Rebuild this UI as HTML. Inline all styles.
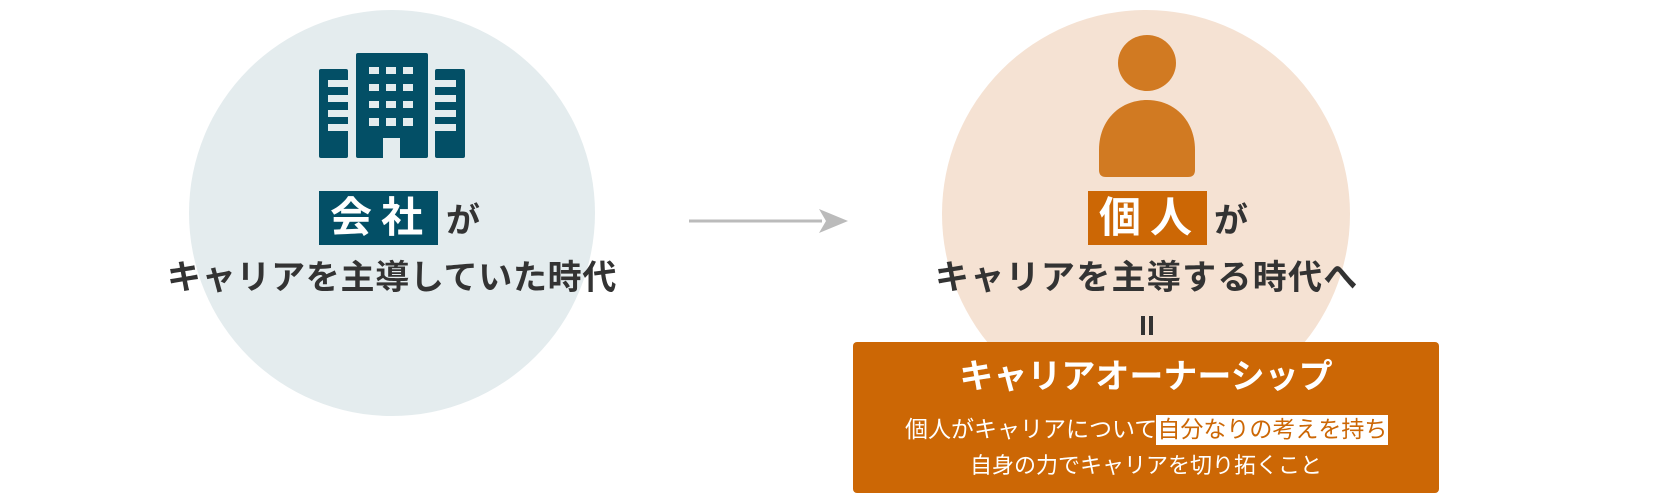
<!DOCTYPE html>
<html><head><meta charset="utf-8"><style>
body{margin:0;width:1680px;height:500px;background:#fff;position:relative;overflow:hidden;font-family:"Liberation Sans","Noto Sans CJK JP",sans-serif}
.a{position:absolute}
.t{position:absolute;font-weight:bold;color:#333;white-space:nowrap;line-height:1}
</style></head><body>
<div class="a" style="left:189px;top:10px;width:406px;height:406px;border-radius:50%;background:#e4ecee"></div>
<div class="a" style="left:942px;top:10px;width:408px;height:408px;border-radius:50%;background:#f5e2d3"></div>
<svg class="a" style="left:0;top:0" width="1680" height="500">
<g fill="#034f66">
<rect x="319" y="69" width="29" height="89" rx="2"/>
<rect x="356" y="53" width="72" height="105" rx="2"/>
<rect x="435" y="69" width="30" height="89" rx="2"/>
</g>
<g fill="#e4ecee">
<rect x="328" y="80" width="20" height="7"/><rect x="328" y="95" width="20" height="7"/><rect x="328" y="110" width="20" height="7"/><rect x="328" y="124" width="20" height="7"/>
<rect x="435" y="80" width="21" height="7"/><rect x="435" y="95" width="21" height="7"/><rect x="435" y="110" width="21" height="7"/><rect x="435" y="124" width="21" height="7"/>
<rect x="369" y="67" width="10" height="7"/><rect x="386" y="67" width="10" height="7"/><rect x="403" y="67" width="10" height="7"/>
<rect x="369" y="84" width="10" height="7"/><rect x="386" y="84" width="10" height="7"/><rect x="403" y="84" width="10" height="7"/>
<rect x="369" y="101" width="10" height="7"/><rect x="386" y="101" width="10" height="7"/><rect x="403" y="101" width="10" height="7"/>
<rect x="369" y="118" width="10" height="8"/><rect x="386" y="118" width="10" height="8"/><rect x="403" y="118" width="10" height="8"/>
<rect x="383" y="138" width="17" height="20"/>
</g>
<g fill="#d17a22">
<ellipse cx="1147" cy="63" rx="29" ry="28"/>
<path d="M1099 170 L1099 150 C1099 120 1120 100 1147 100 C1174 100 1195 120 1195 150 L1195 170 Q1195 177 1188 177 L1106 177 Q1099 177 1099 170Z"/>
</g>
<line x1="689" y1="221" x2="822" y2="221" stroke="#bbb" stroke-width="3"/>
<path d="M819 209 L848 221 L819 233 L826 221Z" fill="#bbb"/>
</svg>
<div class="a" style="left:319px;top:191px;width:119px;height:54px;background:#034f66"></div>
<div class="t" style="left:330px;top:197px;font-size:42px;color:#fff;letter-spacing:9px">会社</div>
<div class="t" style="left:446px;top:204px;font-size:34px">が</div>
<div class="t" style="left:167px;top:261px;font-size:34px;letter-spacing:0.7px">キャリアを主導していた時代</div>
<div class="a" style="left:1088px;top:191px;width:119px;height:54px;background:#cc6705"></div>
<div class="t" style="left:1099px;top:197px;font-size:42px;color:#fff;letter-spacing:9px">個人</div>
<div class="t" style="left:1214px;top:204px;font-size:34px">が</div>
<div class="t" style="left:935px;top:261px;font-size:34px;letter-spacing:1.3px">キャリアを主導する時代へ</div>
<div class="a" style="left:1141px;top:316px;width:4px;height:19px;background:#333"></div>
<div class="a" style="left:1149px;top:316px;width:4px;height:19px;background:#333"></div>
<div class="a" style="left:853px;top:342px;width:586px;height:151px;background:#cc6705;border-radius:4px"></div>
<div class="t" style="left:853px;width:586px;text-align:center;top:360px;font-size:34px;color:#fff">キャリアオーナーシップ</div>
<div class="a" style="left:1156px;top:415px;width:232px;height:30px;background:#fff"></div>
<div class="t" style="left:905px;top:418px;font-size:23px;font-weight:normal;color:#fff">個人がキャリアについて<span style="color:#cc6705">自分なりの考えを持ち</span></div>
<div class="t" style="left:853px;width:586px;text-align:center;top:455px;font-size:22px;font-weight:normal;color:#fff">自身の力でキャリアを切り拓くこと</div>
</body></html>
